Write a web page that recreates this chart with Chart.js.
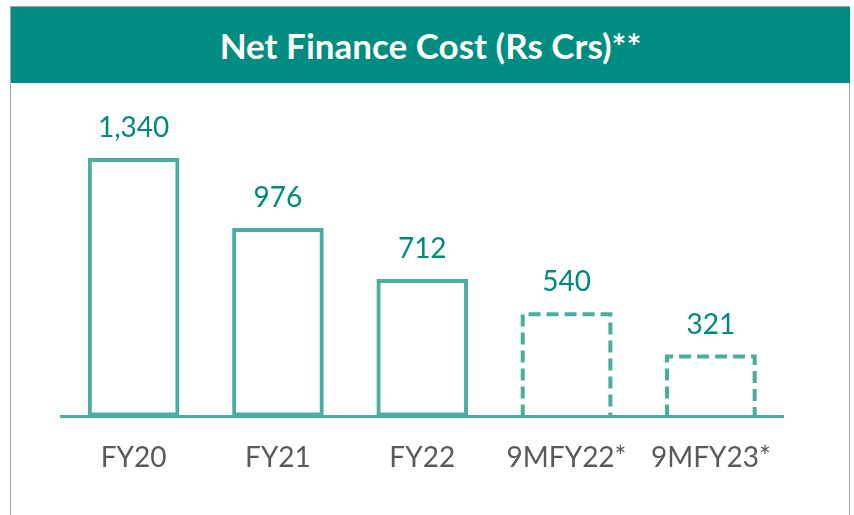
<!DOCTYPE html>
<html>
<head>
<meta charset="utf-8">
<script src="https://cdn.jsdelivr.net/npm/chart.js@4"></script>
<style>
  html, body { margin: 0; padding: 0; background: #fff; }
  #wrap { position: relative; width: 854px; height: 515px; overflow: hidden; }
  #frame { position: absolute; left: 10px; top: 6px; width: 840px; height: 520px;
           border: 1.5px solid #A6A6A6; box-sizing: border-box; }
  #header { position: absolute; left: 11px; top: 7px; width: 839px; height: 76px;
            background: #008C80; color: #fff; font-family: Lato, sans-serif; font-weight: bold;
            font-size: 35px; display: flex; align-items: center; justify-content: center; }
  canvas { position: absolute; left: 0; top: 0; }
</style>
</head>
<body>
<div id="wrap">
  <div id="frame"></div>
  <div id="header">Net Finance Cost (Rs Crs)**</div>
  <canvas id="c" width="854" height="515"></canvas>
</div>
<script>
const categories = ["FY20", "FY21", "FY22", "9MFY22*", "9MFY23*"];
const values = [1340, 976, 712, 540, 321];
const valueLabels = ["1,340", "976", "712", "540", "321"];
const dashedFlags = [false, false, false, true, true];

const stroke = "#4AADA0";
const valueColor = "#00897B";

const dashedBars = {
  id: "dashedBars",
  afterDatasetsDraw(chart) {
    const ctx = chart.ctx;
    const meta = chart.getDatasetMeta(0);
    ctx.save();
    meta.data.forEach((bar, i) => {
      const p = bar.getProps(["x", "y", "base", "width"], true);
      if (dashedFlags[i]) {
        ctx.strokeStyle = stroke;
        ctx.lineWidth = 4;
        ctx.setLineDash([12, 6]);
        const l = p.x - p.width / 2 + 2, r = p.x + p.width / 2 - 2;
        ctx.beginPath();
        ctx.moveTo(l, p.base);
        ctx.lineTo(l, p.y + 2);
        ctx.lineTo(r, p.y + 2);
        ctx.lineTo(r, p.base);
        ctx.stroke();
      }
      ctx.setLineDash([]);
      ctx.fillStyle = valueColor;
      ctx.font = "28px Lato, sans-serif";
      ctx.textAlign = "center";
      ctx.textBaseline = "middle";
      ctx.fillText(valueLabels[i], p.x, p.y - 30);
    });
    ctx.restore();
  }
};

new Chart(document.getElementById("c"), {
  type: "bar",
  data: {
    labels: categories,
    datasets: [{
      data: values,
      backgroundColor: "rgba(0,0,0,0)",
      borderColor: values.map((v, i) => dashedFlags[i] ? "rgba(0,0,0,0)" : stroke),
      borderWidth: values.map((v, i) => dashedFlags[i] ? 0 : 4),
      borderSkipped: false,
      categoryPercentage: 1,
      barPercentage: 0.635
    }]
  },
  options: {
    responsive: false,
    animation: false,
    layout: { padding: { left: 61.5, right: 71, top: 100, bottom: 15 } },
    plugins: { legend: { display: false }, tooltip: { enabled: false }, title: { display: false } },
    scales: {
      x: {
        grid: { display: false, drawTicks: false },
        border: { display: true, color: stroke, width: 3 },
        ticks: { color: "#595959", font: { family: "Lato, sans-serif", size: 28 }, padding: 25 }
      },
      y: { display: false, min: 0, max: 1640 }
    }
  },
  plugins: [dashedBars]
});
</script>
</body>
</html>
